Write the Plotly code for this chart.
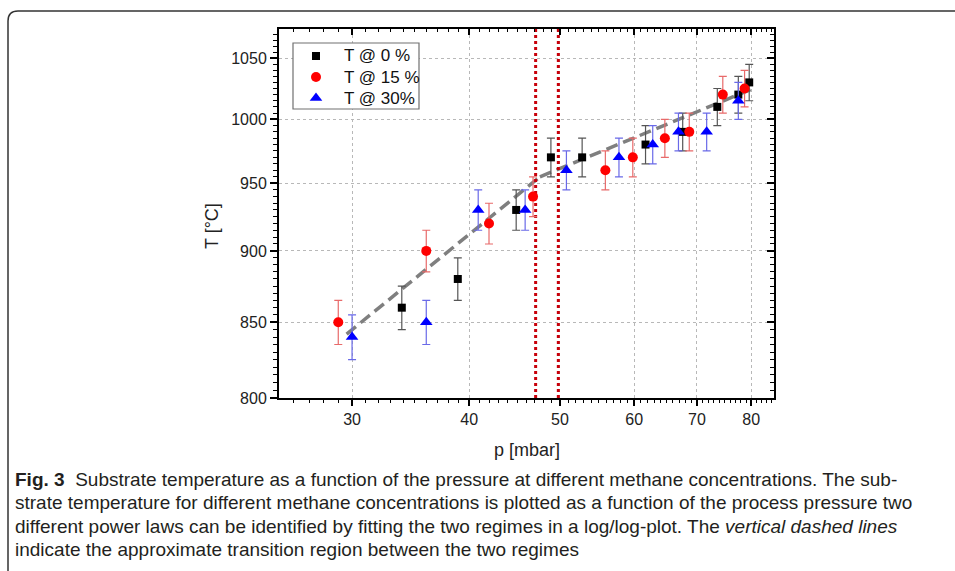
import math
import plotly.graph_objects as go

# ---------------- data ----------------
p_0 = [33.9, 38.9, 44.9, 48.9, 52.8, 61.7, 67.6, 73.6, 77.5, 79.6]
T_0 = [860, 880, 930, 970, 970, 980, 990, 1010, 1020, 1030]

p_15 = [29.0, 36.0, 42.0, 46.8, 55.9, 59.8, 64.7, 68.7, 74.6, 78.7]
T_15 = [850, 900, 920, 940, 960, 970, 985, 990, 1020, 1025]

p_30 = [30.0, 36.0, 40.9, 45.9, 50.8, 57.8, 62.8, 66.9, 71.7, 77.5]
T_30 = [840, 850, 930, 930, 960, 970, 980, 990, 990, 1015]

T_err = 15

fit_low_p = [29.6, 47.6]
fit_low_T = [842, 955]
fit_high_p = [47.6, 80.4]
fit_high_T = [955, 1025]

transition_p = [47.1, 49.8]

series_names = ["T @ 0 %", "T @ 15 %", "T @ 30%"]

x_ticks = [30, 40, 50, 60, 70, 80]
x_ticklabels = ["30", "40", "50", "60", "70", "80"]
y_ticks = [800, 850, 900, 950, 1000, 1050]
y_ticklabels = ["800", "850", "900", "950", "1000", "1050"]

x_range = [25.07, 84.6]
y_range = [800, 1075]

caption_lines = [
    "<b>Fig. 3</b>  Substrate temperature as a function of the pressure at different methane concentrations. The sub-",
    "strate temperature for different methane concentrations is plotted as a function of the process pressure two",
    "different power laws can be identified by fitting the two regimes in a log/log-plot. The <i>vertical dashed lines</i>",
    "indicate the approximate transition region between the two regimes",
]

# ---------------- layout helpers ----------------
W, H = 955, 571
L, R, TOP, BOT = 279, 774, 29, 398


def X(px):
    return (px - L) / (R - L)


def Y(py):
    return (BOT - py) / (BOT - TOP)


FONT = "Liberation Sans, Arial, sans-serif"
CAP_FONT = "Liberation Sans Narrow, Liberation Sans, Arial, sans-serif"

x_minor = [v for v in range(26, 85) if v not in x_ticks]
y_minor = [v for v in range(805, 1075, 5) if v not in y_ticks]

fig = go.Figure()

# fit lines
for fp, fT in [(fit_low_p, fit_low_T), (fit_high_p, fit_high_T)]:
    fig.add_trace(go.Scatter(
        x=fp, y=fT, mode="lines", showlegend=False, hoverinfo="skip",
        line=dict(color="#7f7f7f", width=3.5, dash="12px,6px"),
    ))

# transition lines
for tp in transition_p:
    fig.add_trace(go.Scatter(
        x=[tp, tp], y=y_range, mode="lines", showlegend=False, hoverinfo="skip",
        line=dict(color="#c8000a", width=3, dash="dot"),
    ))

styles = [
    ("black", "square", 8, "#555555"),
    ("#ff0000", "circle", 10, "#e86a6a"),
    ("#0000ff", "triangle-up", 11, "#6a6ae8"),
]
for name, xs, ys, (col, sym, sz, ecol) in zip(series_names, [p_0, p_15, p_30],
                                               [T_0, T_15, T_30], styles):
    fig.add_trace(go.Scatter(
        x=xs, y=ys, mode="markers", name=name, showlegend=False,
        marker=dict(color=col, symbol=sym, size=sz, line=dict(width=0)),
        error_y=dict(type="constant", value=T_err, color=ecol, thickness=1.2, width=4),
    ))

# invisible trace for mirrored axes
fig.add_trace(go.Scatter(x=x_range, y=y_range, xaxis="x2", yaxis="y2",
                         mode="markers", marker=dict(opacity=0), showlegend=False,
                         hoverinfo="skip"))

# ---- legend box (own small subplot so it covers the grid) ----
LEG_L, LEG_R, LEG_T, LEG_B = 293, 419, 43, 109
row_py = [56, 77, 98]
mark_px = 316
text_px = 342
for name, (col, sym, sz, ecol), py in zip(series_names, styles, row_py):
    fig.add_trace(go.Scatter(
        x=[(mark_px - LEG_L) / (LEG_R - LEG_L)], y=[(LEG_B - py) / (LEG_B - LEG_T)],
        xaxis="x3", yaxis="y3", mode="markers", name=name, showlegend=False,
        hoverinfo="skip",
        marker=dict(color=col, symbol=sym, size=sz, line=dict(width=0)),
    ))
    fig.add_annotation(text=name, x=X(text_px), y=Y(py), xref="paper", yref="paper",
                       showarrow=False, xanchor="left", yanchor="middle",
                       font=dict(size=17, family=FONT, color="#111"))
fig.add_shape(type="rect", xref="paper", yref="paper",
              x0=X(LEG_L), x1=X(LEG_R), y0=Y(LEG_B), y1=Y(LEG_T),
              line=dict(color="#707070", width=1.2), layer="above")

xr = [math.log10(x_range[0]), math.log10(x_range[1])]
yr = [math.log10(y_range[0]), math.log10(y_range[1])]

common_x = dict(type="log", range=xr, tickmode="array", tickvals=x_ticks,
                zeroline=False, linecolor="black", linewidth=2)
common_y = dict(type="log", range=yr, tickmode="array", tickvals=y_ticks,
                zeroline=False, linecolor="black", linewidth=2)

fig.update_layout(
    width=W, height=H,
    margin=dict(l=L, r=W - R, t=TOP, b=H - BOT, pad=0),
    paper_bgcolor="white", plot_bgcolor="white",
    font=dict(family=FONT, color="black", size=16),
    showlegend=False,
    xaxis=dict(**common_x, ticktext=x_ticklabels, ticks="outside", ticklen=6,
               tickwidth=1.5, tickcolor="black", showline=True,
               showgrid=True, gridcolor="#b8b8b8", griddash="dot", gridwidth=1,
               tickfont=dict(size=16, color="#222"),
               minor=dict(tickmode="array", tickvals=x_minor, ticks="outside",
                          ticklen=3, tickwidth=1.2, tickcolor="black", showgrid=False)),
    yaxis=dict(**common_y, ticktext=y_ticklabels, ticks="outside", ticklen=7,
               tickwidth=1.5, tickcolor="black", showline=True,
               showgrid=True, gridcolor="#b8b8b8", griddash="dot", gridwidth=1,
               tickfont=dict(size=16, color="#222"),
               minor=dict(tickmode="array", tickvals=y_minor, ticks="outside",
                          ticklen=4, tickwidth=1.2, tickcolor="black", showgrid=False)),
    xaxis2=dict(**common_x, overlaying="x", side="top", anchor="y",
                showticklabels=False, ticks="inside", ticklen=6, tickwidth=1.5,
                tickcolor="black", showline=True, showgrid=False,
                minor=dict(tickmode="array", tickvals=x_minor, ticks="inside",
                           ticklen=3, tickwidth=1.2, tickcolor="black", showgrid=False)),
    yaxis2=dict(**common_y, overlaying="y", side="right", anchor="x",
                showticklabels=False, ticks="inside", ticklen=7, tickwidth=1.5,
                tickcolor="black", showline=True, showgrid=False,
                minor=dict(tickmode="array", tickvals=y_minor, ticks="inside",
                           ticklen=4, tickwidth=1.2, tickcolor="black", showgrid=False)),
    xaxis3=dict(domain=[X(LEG_L), X(LEG_R)], range=[0, 1], visible=False,
                anchor="y3", fixedrange=True),
    yaxis3=dict(domain=[Y(LEG_B), Y(LEG_T)], range=[0, 1], visible=False,
                anchor="x3", fixedrange=True),
)

# axis titles
fig.add_annotation(text="p [mbar]", x=X(527), y=Y(450), xref="paper", yref="paper",
                   showarrow=False, xanchor="center", yanchor="middle",
                   font=dict(size=18, family=FONT, color="#222"))
fig.add_annotation(text="T [°C]", x=X(212), y=Y(226), xref="paper", yref="paper",
                   showarrow=False, xanchor="center", yanchor="middle", textangle=-90,
                   font=dict(size=18, family=FONT, color="#222"))

# caption
cap_y = [479, 502, 526, 549]
for txt, cy in zip(caption_lines, cap_y):
    fig.add_annotation(text=txt, x=X(13), y=Y(cy), xref="paper", yref="paper",
                       showarrow=False, xanchor="left", yanchor="middle", align="left",
                       font=dict(size=19, family=CAP_FONT, color="#231f20"))

# rounded frame around figure
x0, yt, rad = 8, 11, 10
path = (f"M {X(x0)},{Y(H + 5)} L {X(x0)},{Y(yt + rad)} "
        f"Q {X(x0)},{Y(yt)} {X(x0 + rad)},{Y(yt)} L {X(W + 5)},{Y(yt)}")
fig.add_shape(type="path", path=path, xref="paper", yref="paper",
              line=dict(color="#333333", width=1.5), layer="above")

fig.write_html("out.html")
